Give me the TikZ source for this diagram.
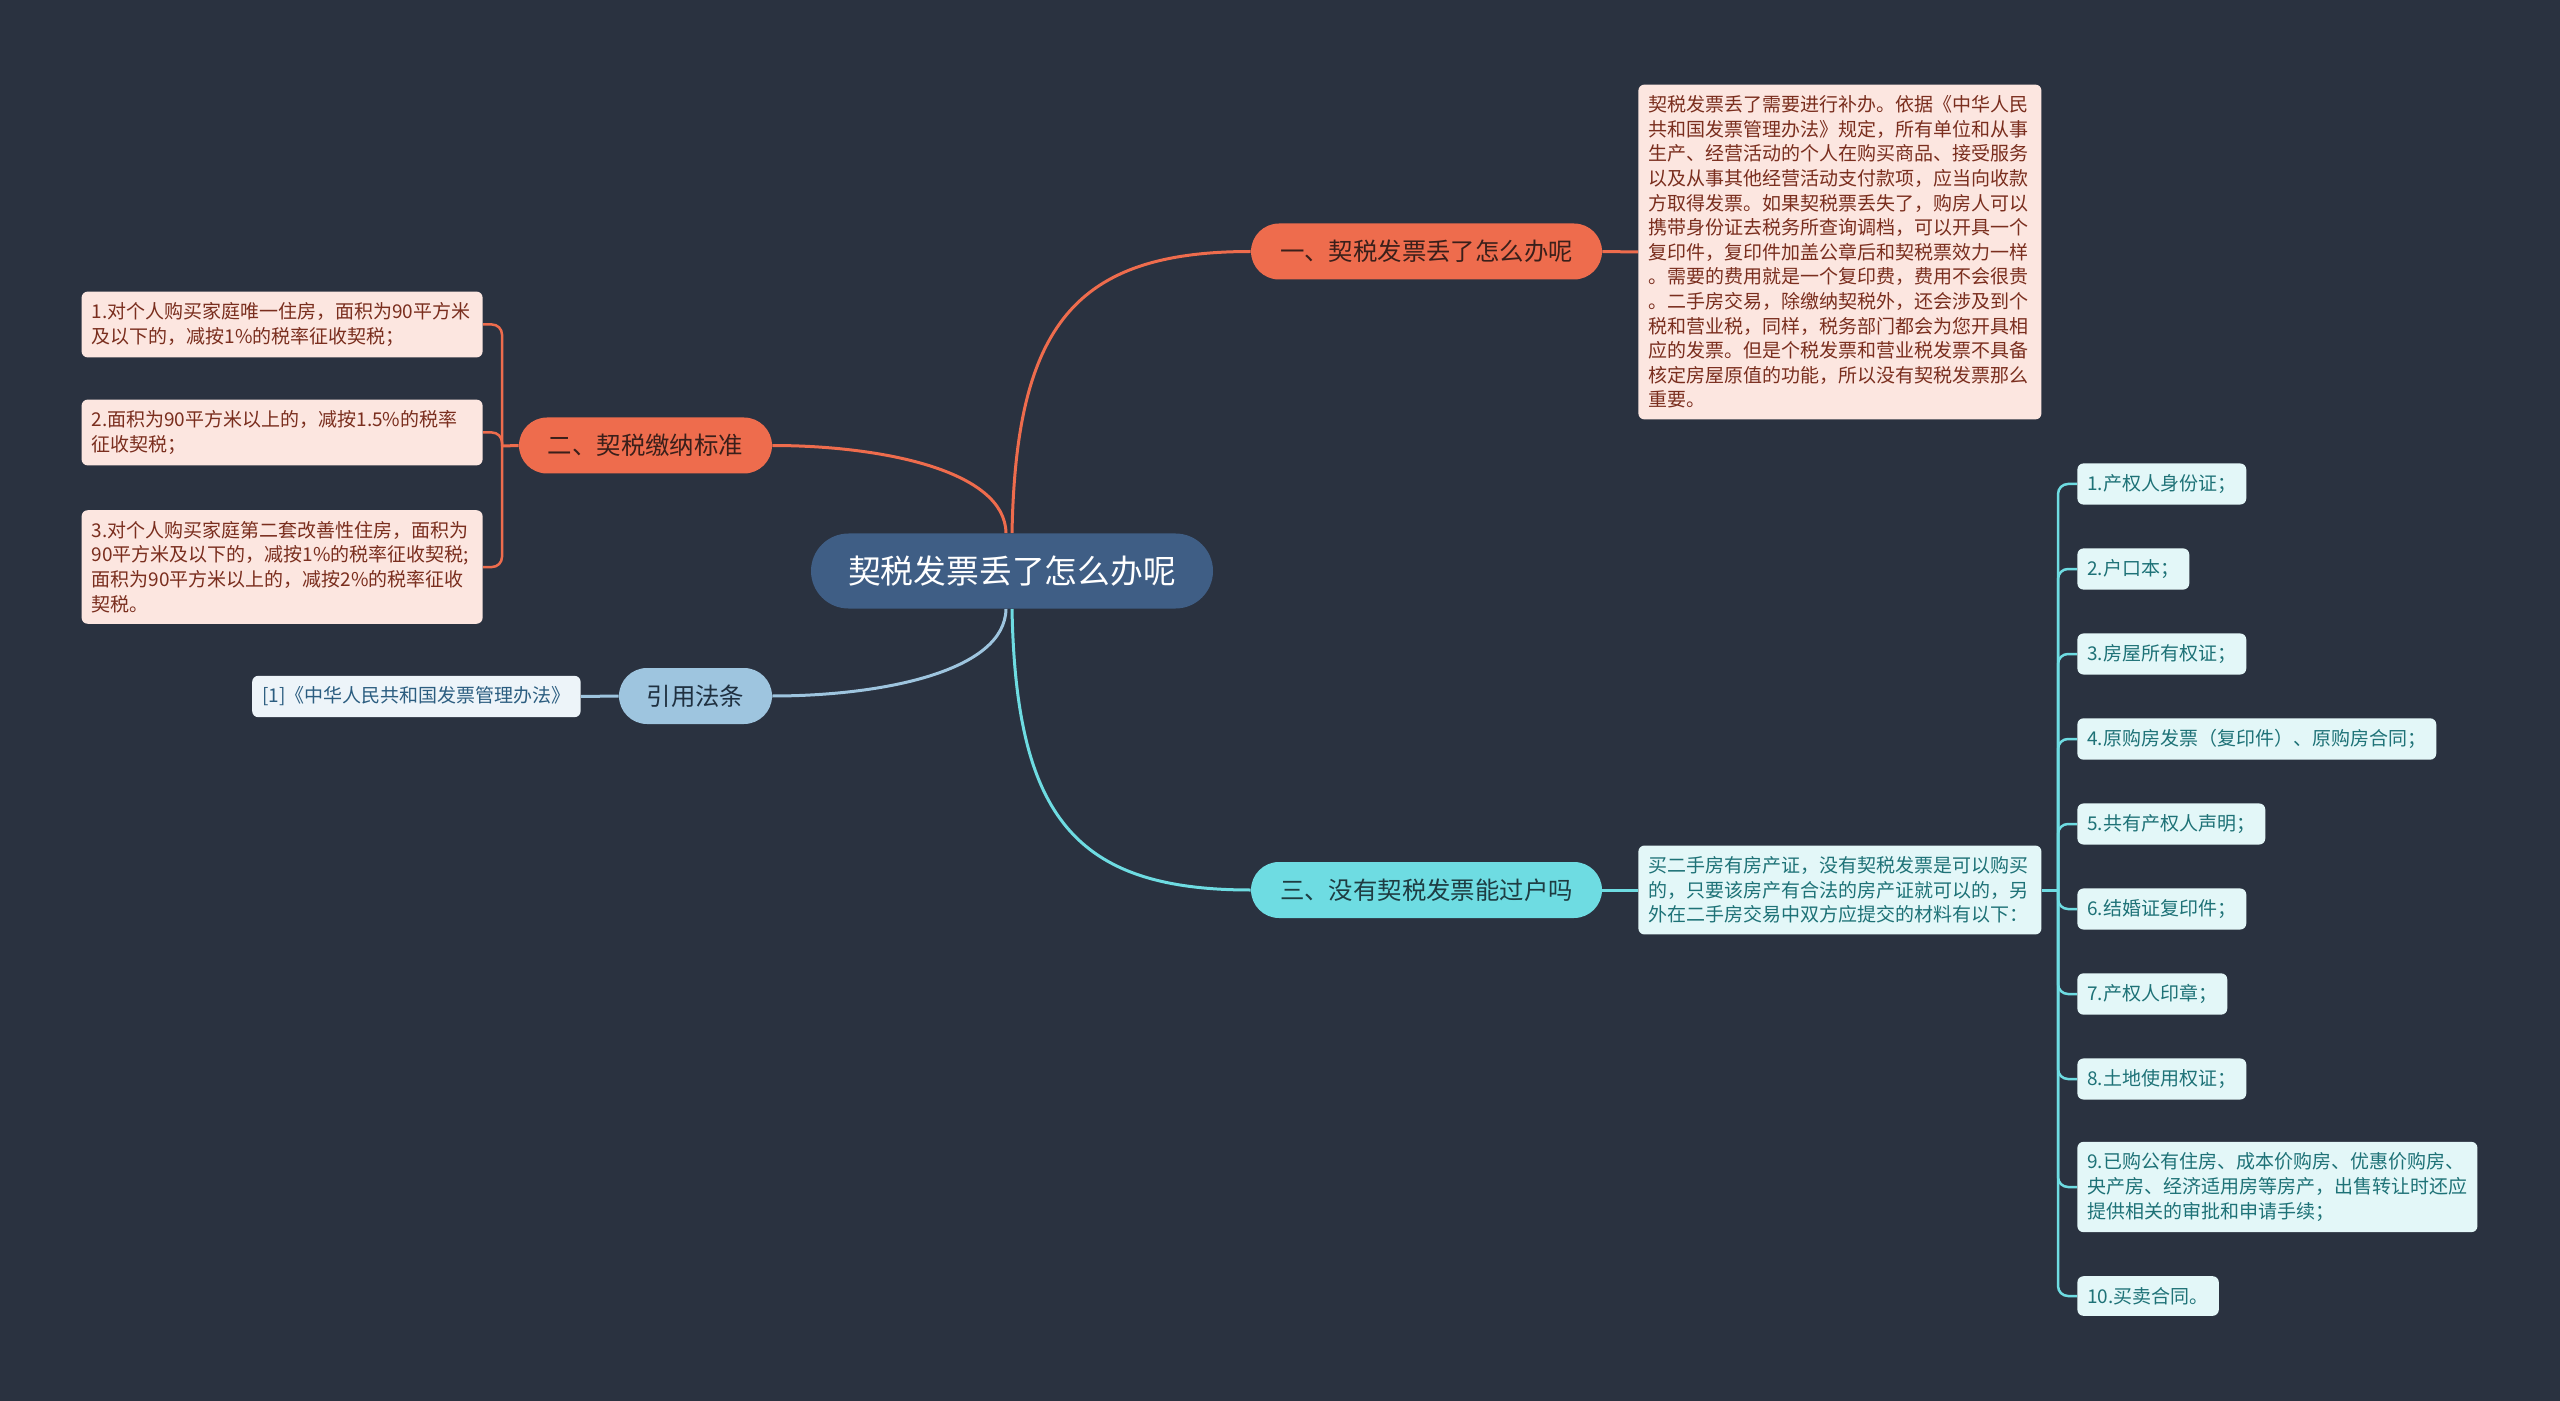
\documentclass[tikz,border=0pt]{standalone}
\usepackage{fontspec}
\setmainfont{Noto Sans CJK SC}
\usetikzlibrary{backgrounds}

\definecolor{bgnavy}{HTML}{2A3240}
\definecolor{rootblue}{HTML}{3F5E85}
\definecolor{topicred}{HTML}{EE6C4D}
\definecolor{topicink}{HTML}{3A1F1A}
\definecolor{leafpink}{HTML}{FCE6E0}
\definecolor{pinkink}{HTML}{7A2E1E}
\definecolor{topiccyan}{HTML}{6EDCE2}
\definecolor{cyanink}{HTML}{1E3C42}
\definecolor{leafcyan}{HTML}{E3F7F8}
\definecolor{tealink}{HTML}{1E7277}
\definecolor{topicblue}{HTML}{9EC5DF}
\definecolor{blueink}{HTML}{1F3040}
\definecolor{leafblue}{HTML}{EDF4F9}
\definecolor{refink}{HTML}{2B5D80}

\begin{document}
\begin{tikzpicture}[x=0.5pt, y=-0.5pt,
    mainbox/.style={rounded corners=18.75pt, fill=rootblue, text=white, inner sep=0pt,
      minimum width=201pt, minimum height=37.5pt, font=\fontsize{16.4pt}{20pt}\selectfont},
    topicbox/.style={rounded corners=14pt, inner sep=0pt, minimum height=28pt,
      font=\fontsize{12.2pt}{15pt}\selectfont},
    leafbox/.style={rounded corners=3pt, inner xsep=5pt, inner ysep=5.5pt, align=left,
      font=\fontsize{9.5pt}{12.3pt}\selectfont},
    pinkleaf/.style={leafbox, fill=leafpink, text=pinkink},
    cyanleaf/.style={leafbox, fill=leafcyan, text=tealink},
    redline/.style={draw=topicred, line width=1.5pt},
    cyanline/.style={draw=topiccyan, line width=1.5pt},
    blueline/.style={draw=topicblue, line width=1.5pt},
    bracket/.style={line width=1.25pt, rounded corners=5pt}]
    % tema central
    \node[mainbox] (root) at (1012,571) {契税发票丢了怎么办呢};
    % ramo 1
    \node[topicbox, fill=topicred, text=topicink, minimum width=175.5pt] (one) at (1426.5,251.5) {一、契税发票丢了怎么办呢};
    \node[pinkleaf, text width=191.5pt, anchor=west] (onetext) at (1638,252) {契税发票丢了需要进行补办。依据《中华人民\\共和国发票管理办法》规定，所有单位和从事\\生产、经营活动的个人在购买商品、接受服务\\以及从事其他经营活动支付款项，应当向收款\\方取得发票。如果契税票丢失了，购房人可以\\携带身份证去税务所查询调档，可以开具一个\\复印件，复印件加盖公章后和契税票效力一样\\。需要的费用就是一个复印费，费用不会很贵\\。二手房交易，除缴纳契税外，还会涉及到个\\税和营业税，同样，税务部门都会为您开具相\\应的发票。但是个税发票和营业税发票不具备\\核定房屋原值的功能，所以没有契税发票那么\\重要。};
    % ramo 2
    \node[topicbox, fill=topicred, text=topicink, minimum width=126.5pt] (two) at (645.5,445.5) {二、契税缴纳标准};
    \node[pinkleaf, text width=190.5pt, anchor=east] (rate1) at (483,324.5) {1.对个人购买家庭唯一住房，面积为90平方米\\及以下的，减按1\%的税率征收契税；};
    \node[pinkleaf, text width=190.5pt, anchor=east] (rate2) at (483,432.5) {2.面积为90平方米以上的，减按1.5\%的税率\\征收契税；};
    \node[pinkleaf, text width=190.5pt, anchor=east] (rate3) at (483,567) {3.对个人购买家庭第二套改善性住房，面积为\\90平方米及以下的，减按1\%的税率征收契税;\\面积为90平方米以上的，减按2\%的税率征收\\契税。};
    \coordinate (twojoin) at (502,446);
    % referencia
    \node[topicbox, fill=topicblue, text=blueink, minimum width=76.5pt] (cite) at (695.5,696) {引用法条};
    \node[leafbox, fill=leafblue, text=refink, anchor=east] (law) at (581,696.5) {[1]《中华人民共和国发票管理办法》};
    % ramo 3
    \node[topicbox, fill=topiccyan, text=cyanink, minimum width=175.5pt] (three) at (1426.5,890) {三、没有契税发票能过户吗};
    \node[cyanleaf, text width=191.5pt, anchor=west] (threetext) at (1638,890) {买二手房有房产证，没有契税发票是可以购买\\的，只要该房产有合法的房产证就可以的，另\\外在二手房交易中双方应提交的材料有以下：};
    \coordinate (threejoin) at (2058,890);
    \foreach \i/\t in {1/{1.产权人身份证；}, 2/{2.户口本；}, 3/{3.房屋所有权证；},
        4/{4.原购房发票（复印件）、原购房合同；}, 5/{5.共有产权人声明；},
        6/{6.结婚证复印件；}, 7/{7.产权人印章；}, 8/{8.土地使用权证；}}
      \node[cyanleaf, anchor=west] (doc\i) at (2077,399+85*\i) {\t};
    \node[cyanleaf, anchor=west] (doc9) at (2077,1187) {9.已购公有住房、成本价购房、优惠价购房、\\央产房、经济适用房等房产，出售转让时还应\\提供相关的审批和申请手续；};
    \node[cyanleaf, anchor=west] (doc10) at (2077,1296) {10.买卖合同。};
    % fundo e ligacoes
    \begin{scope}[on background layer]
      \fill[bgnavy] (0,0) rectangle (2560,1401);
      \draw[redline] (root.north) .. controls (1016,325) and (1075,251.5) .. (one.west);
      \draw[redline] ([xshift=-3pt]root.north) .. controls (1005,470) and (880,445.5) .. (two.east);
      \draw[blueline] ([xshift=-3pt]root.south) .. controls (1005,672) and (880,696) .. (cite.east);
      \draw[cyanline] (root.south) .. controls (1016,817) and (1075,890) .. (three.west);
      \draw[redline] (one.east) -- (onetext.west);
      \draw[blueline] (cite.west) -- (law.east);
      \draw[redline] (two.west) -- (twojoin);
      \draw[redline, bracket] (rate1.east) -| (twojoin) |- (rate3.east);
      \draw[redline, bracket] (rate2.east) -| (twojoin);
      \draw[cyanline] (three.east) -- (threetext.west) (threetext.east) -- (threejoin);
      \foreach \i in {1,...,10}
        \draw[cyanline, bracket] (threejoin) |- (doc\i.west);
    \end{scope}
\end{tikzpicture}
\end{document}
